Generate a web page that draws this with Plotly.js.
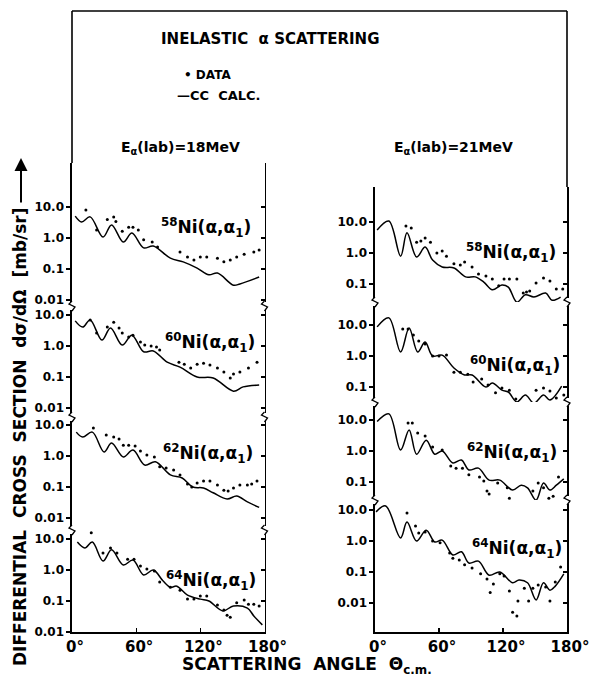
<!DOCTYPE html>
<html>
<head>
<meta charset="utf-8">
<script src="https://cdn.plot.ly/plotly-3.0.1.min.js"></script>
<style>html,body{margin:0;padding:0;background:#fff;}#chart{width:589px;height:679px;}</style>
</head>
<body>
<div id="chart"></div>
<script>
// ---------------- DATA (angle in degrees c.m., cross section in mb/sr) ----------------
// 18 MeV
const calc58_18_theta = [3,9,17,29,37,48,56,67,76,92,104,117,128,136,151,157,175];
const calc58_18_sigma = [5.1,3.3,4.8,1.07,2.63,0.74,1.45,0.48,0.55,0.224,0.17,0.107,0.065,0.074,0.030,0.033,0.055];
const data58_18_theta = [13,23,33,39,41,47,53,57,62,67,75,80,101,108,114,120,126,136,142,148,154,161,170,175];
const data58_18_sigma = [7.94,1.82,3.98,4.79,3.39,1.66,2.24,2.24,1.82,0.87,0.74,0.51,0.355,0.245,0.195,0.245,0.245,0.224,0.17,0.195,0.245,0.30,0.355,0.41];

const calc60_18_theta = [3,10,17,28,36,47,56,67,76,89,101,117,132,151,160,175];
const calc60_18_sigma = [6.46,4.07,6.92,1.55,3.8,1.07,2.24,0.65,0.69,0.30,0.209,0.1,0.093,0.035,0.048,0.055];
const data60_18_theta = [17,23,33,39,44,47,53,57,64,68,74,79,82,100,105,111,117,123,129,136,142,148,151,157,165,173];
const data60_18_sigma = [6.92,2.63,4.07,5.89,3.8,2.63,1.95,2.24,1.35,1.07,1.0,0.93,0.74,0.30,0.26,0.195,0.26,0.28,0.245,0.195,0.145,0.093,0.126,0.145,0.195,0.30];

const calc62_18_theta = [4,10,19,30,37,48,57,68,78,92,103,113,123,132,145,154,164,175];
const calc62_18_sigma = [5.89,4.07,5.89,1.35,2.63,0.93,1.55,0.51,0.65,0.245,0.195,0.1,0.093,0.065,0.041,0.051,0.033,0.022];
const data62_18_theta = [20,32,39,44,48,53,59,64,70,77,82,88,95,101,108,112,117,123,129,136,142,146,151,157,164,168,173];
const data62_18_sigma = [7.94,4.79,4.07,3.55,2.24,2.24,2.09,1.45,1.07,0.93,0.45,0.41,0.355,0.245,0.126,0.1,0.135,0.155,0.155,0.115,0.079,0.074,0.093,0.115,0.115,0.126,0.155];

const calc64_18_theta = [5,12,19,29,37,48,57,67,76,85,92,98,108,120,128,141,151,164,170,178];
const calc64_18_sigma = [7.94,5.13,7.94,1.95,4.47,1.45,2.09,0.69,1.0,0.45,0.28,0.30,0.155,0.115,0.1,0.048,0.069,0.059,0.033,0.017];
const data64_18_theta = [18,29,36,42,52,58,64,70,77,82,92,101,108,114,120,126,136,142,145,148,154,161,165,170,175];
const data64_18_sigma = [15.8,3.55,5.13,3.55,2.24,2.24,1.35,1.07,0.93,0.41,0.28,0.224,0.115,0.115,0.145,0.145,0.074,0.051,0.035,0.030,0.087,0.107,0.079,0.079,0.069];

// 21 MeV
const calc58_21_theta = [2,13,24,30,39,47,54,63,74,85,94,102,110,119,125,133,141,149,160,166,174];
const calc58_21_sigma = [5.5,10.7,0.79,4.47,0.74,1.55,0.59,0.355,0.33,0.17,0.17,0.115,0.065,0.093,0.079,0.026,0.045,0.038,0.051,0.030,0.038];
const data58_21_theta = [29,34,39,43,47,52,58,63,67,74,80,84,91,97,104,110,116,121,126,133,139,142,145,151,158,164,170,176];
const data58_21_sigma = [7.41,6.46,2.24,2.45,3.02,2.24,1.0,1.15,0.79,0.45,0.41,0.51,0.355,0.209,0.182,0.145,0.087,0.145,0.145,0.145,0.051,0.055,0.059,0.107,0.155,0.126,0.069,0.069];

const calc60_21_theta = [2,13,24,32,40,47,54,63,74,84,91,104,110,119,125,133,141,149,158,164,175];
const calc60_21_sigma = [8.71,17,1.35,7.94,1.35,2.82,1.0,1.07,0.41,0.245,0.245,0.1,0.135,0.079,0.069,0.033,0.055,0.030,0.055,0.038,0.107];
const data60_21_theta = [26,31,36,41,47,54,60,67,74,80,87,92,100,106,113,119,126,132,137,140,145,151,158,164,170,177];
const data60_21_sigma = [7.41,7.41,4.79,3.02,2.45,1.0,1.0,1.07,0.30,0.30,0.26,0.145,0.182,0.115,0.065,0.093,0.079,0.041,0.0195,0.0135,0.026,0.079,0.093,0.074,0.044,0.055];

const calc62_21_theta = [2,13,24,32,39,48,56,63,73,81,88,97,107,117,129,137,143,151,158,164,170,177];
const calc62_21_sigma = [8.9,15.8,1.07,4.79,0.79,2.24,0.79,1.0,0.41,0.51,0.245,0.28,0.115,0.115,0.055,0.079,0.065,0.026,0.093,0.055,0.079,0.126];
const data62_21_theta = [31,35,40,47,54,63,71,76,82,88,98,102,105,107,115,124,126,130,134,139,144,148,153,158,163,167,172];
const data62_21_sigma = [7.94,7.94,3.8,3.02,1.35,1.07,0.33,0.28,0.28,0.17,0.145,0.107,0.051,0.041,0.093,0.065,0.030,0.01,0.0079,0.0145,0.026,0.051,0.093,0.065,0.030,0.035,0.145];

const calc64_21_theta = [1,10,24,30,39,48,56,63,73,81,88,97,107,117,129,135,143,151,158,164,169,177];
const calc64_21_sigma = [8.71,13.5,1.26,4.07,1.0,2.24,0.93,1.07,0.355,0.45,0.195,0.224,0.079,0.1,0.045,0.055,0.045,0.0126,0.045,0.026,0.035,0.087];
const data64_21_theta = [30,38,41,47,54,61,70,73,79,84,91,99,105,108,111,117,121,126,129,133,134,140,144,148,153,160,164,169,174];
const data64_21_sigma = [7.94,3.02,1.82,1.95,1.0,0.87,0.41,0.28,0.245,0.17,0.135,0.087,0.059,0.022,0.041,0.087,0.074,0.0245,0.005,0.0038,0.0115,0.030,0.0115,0.030,0.038,0.033,0.0115,0.048,0.145];

// tick labels
const xTickVals = [0,60,120,180];
const xTickText = ['0°','60°','120°','180°'];
const yTickVals4 = [10,1,0.1,0.01];
const yTickText4 = ['10.0','1.0','0.1','0.01'];
const yTickVals3 = [10,1,0.1];
const yTickText3 = ['10.0','1.0','0.1'];

const labels = ['<sup>58</sup>Ni(α,α<sub>1</sub>)','<sup>60</sup>Ni(α,α<sub>1</sub>)','<sup>62</sup>Ni(α,α<sub>1</sub>)','<sup>64</sup>Ni(α,α<sub>1</sub>)'];

// ---------------- LAYOUT HELPERS ----------------
const W = 589, H = 679;
const PX = x => x / W;
const PY = y => 1 - y / H;
const FONT = 'DejaVu Sans';
const PPD = 31; // pixels per decade

const panels = [
  {calcT:calc58_18_theta, calcS:calc58_18_sigma, dataT:data58_18_theta, dataS:data58_18_sigma, xd:[72,264.5], top:163, bot:306, y10:207, tv:yTickVals4, tt:yTickText4, lab:labels[0], lx:206, ly:228, bottom:false},
  {calcT:calc60_18_theta, calcS:calc60_18_sigma, dataT:data60_18_theta, dataS:data60_18_sigma, xd:[72,264.5], top:306, bot:417, y10:315, tv:yTickVals4, tt:yTickText4, lab:labels[1], lx:210, ly:342, bottom:false},
  {calcT:calc62_18_theta, calcS:calc62_18_sigma, dataT:data62_18_theta, dataS:data62_18_sigma, xd:[72,264.5], top:417, bot:530, y10:425, tv:yTickVals4, tt:yTickText4, lab:labels[2], lx:208, ly:453, bottom:false},
  {calcT:calc64_18_theta, calcS:calc64_18_sigma, dataT:data64_18_theta, dataS:data64_18_sigma, xd:[72,264.5], top:530, bot:632, y10:539, tv:yTickVals4, tt:yTickText4, lab:labels[3], lx:211, ly:580, bottom:true},
  {calcT:calc58_21_theta, calcS:calc58_21_sigma, dataT:data58_21_theta, dataS:data58_21_sigma, xd:[375,567], top:187, bot:302, y10:222, tv:yTickVals3, tt:yTickText3, lab:labels[0], lx:511, ly:252, bottom:false},
  {calcT:calc60_21_theta, calcS:calc60_21_sigma, dataT:data60_21_theta, dataS:data60_21_sigma, xd:[375,567], top:302, bot:402, y10:325, tv:yTickVals3, tt:yTickText3, lab:labels[1], lx:515, ly:365, bottom:false},
  {calcT:calc62_21_theta, calcS:calc62_21_sigma, dataT:data62_21_theta, dataS:data62_21_sigma, xd:[375,567], top:402, bot:500, y10:420, tv:yTickVals3, tt:yTickText3, lab:labels[2], lx:512, ly:452, bottom:false},
  {calcT:calc64_21_theta, calcS:calc64_21_sigma, dataT:data64_21_theta, dataS:data64_21_sigma, xd:[375,567], top:500, bot:632, y10:510, tv:yTickVals4, tt:yTickText4, lab:labels[3], lx:517, ly:548, bottom:true}
];

const traces = [];
const layout = {
  width: W, height: H,
  margin: {l:0, r:0, t:0, b:0, pad:0},
  paper_bgcolor: '#fff', plot_bgcolor: 'rgba(0,0,0,0)',
  showlegend: false,
  font: {family: FONT, color: '#000'},
  shapes: [], annotations: []
};

panels.forEach((p, k) => {
  const i = k + 1;
  const xa = 'x' + i, ya = 'y' + i, ya2 = 'y' + (i + 8);
  const hi = 1 + (p.y10 - p.top) / PPD;
  const lo = 1 - (p.bot - p.y10) / PPD;
  traces.push({type:'scatter', mode:'lines', x:p.calcT, y:p.calcS, xaxis:xa, yaxis:ya,
    line:{color:'#000', width:1.5, shape:'spline', smoothing:1}, hoverinfo:'skip'});
  traces.push({type:'scatter', mode:'markers', x:p.dataT, y:p.dataS, xaxis:xa, yaxis:ya, cliponaxis:false,
    marker:{color:'#000', size:3, symbol:'circle'}, hoverinfo:'skip'});
  traces.push({type:'scatter', mode:'markers', x:[], y:[], xaxis:xa, yaxis:ya2, hoverinfo:'skip'});

  layout['xaxis' + i] = p.bottom ? {
    domain:[PX(p.xd[0]), PX(p.xd[1])], anchor:ya, range:[0,180], showgrid:false, zeroline:false,
    showline:true, linecolor:'#000', linewidth:1.6, ticks:'inside', ticklen:4, tickwidth:1.3, tickcolor:'#000',
    tickvals:xTickVals, ticktext:xTickText, ticklabelshift:3, ticklabeloverflow:'allow',
    tickfont:{family:FONT, size:15, weight:'bold', color:'#000'}, automargin:false, fixedrange:true
  } : {
    domain:[PX(p.xd[0]), PX(p.xd[1])], anchor:ya, range:[0,180], visible:false, fixedrange:true
  };
  layout['yaxis' + i] = {
    domain:[PY(p.bot), PY(p.top)], anchor:xa, type:'log', range:[lo, hi], showgrid:false, zeroline:false,
    showline:true, mirror:true, linecolor:'#000', linewidth:1.6,
    ticks:'outside', ticklen:4, tickwidth:1.3, tickcolor:'#000',
    tickvals:p.tv, ticktext:p.tt, tickfont:{family:FONT, size:12, weight:'bold', color:'#000'},
    automargin:false, fixedrange:true
  };
  layout['yaxis' + (i + 8)] = {
    overlaying:ya, side:'right', anchor:xa, type:'log', range:[lo, hi], showgrid:false, zeroline:false,
    showline:false, ticks:'inside', ticklen:4, tickwidth:1.3, tickcolor:'#000',
    tickvals:yTickVals4, showticklabels:false, automargin:false, fixedrange:true
  };
  layout.annotations.push({xref:'paper', yref:'paper', x:PX(p.lx), y:PY(p.ly), text:p.lab, showarrow:false,
    xanchor:'center', yanchor:'middle', font:{family:FONT, size:17, weight:'bold', color:'#000'}});
});

// frame lines
const LW = 1.6;
const line = (x0,y0,x1,y1) => ({type:'line', xref:'paper', yref:'paper', x0:PX(x0), y0:PY(y0), x1:PX(x1), y1:PY(y1), line:{color:'#000', width:LW}});
layout.shapes.push(line(72,11,567,11), line(72,11,72,163), line(567,11,567,187));

// axis break marks
const brk = (x,y) => {
  layout.shapes.push({type:'rect', xref:'paper', yref:'paper', x0:PX(x-2), x1:PX(x+2), y0:PY(y+4), y1:PY(y-4), fillcolor:'#fff', line:{width:0}});
  const pts = [[x,y-5],[x-3,y-2],[x+3,y+1],[x,y+5]];
  layout.shapes.push({type:'path', xref:'paper', yref:'paper',
    path:'M' + pts.map(q => PX(q[0]) + ',' + PY(q[1])).join(' L'), line:{color:'#000', width:1.3}});
};
[306,417,530].forEach(y => { brk(72,y); brk(264.5,y); });
[302,402,500].forEach(y => { brk(375,y); brk(567,y); });

// texts
const ann = (x,y,text,size,opts={}) => layout.annotations.push(Object.assign({xref:'paper', yref:'paper', x:PX(x), y:PY(y), text:text, showarrow:false,
  xanchor:'center', yanchor:'middle', font:{family:FONT, size:size, weight:'bold', color:'#000'}}, opts));
ann(270, 39, 'INELASTIC&nbsp;&nbsp;α SCATTERING', 15);
ann(182, 75, '• DATA', 12, {xanchor:'left'});
ann(175, 96, '—CC&nbsp;&nbsp;CALC.', 13, {xanchor:'left'});
ann(180, 148, 'E<sub>α</sub>(lab)=18MeV', 14);
ann(454, 148, 'E<sub>α</sub>(lab)=21MeV', 14);
ann(307, 665, 'SCATTERING&nbsp;&nbsp;ANGLE&nbsp;&nbsp;Θ<sub>c.m.</sub>', 17);
ann(20, 437, 'DIFFERENTIAL&nbsp;&nbsp;CROSS&nbsp;&nbsp;SECTION&nbsp;&nbsp;dσ/dΩ&nbsp;&nbsp;[mb/sr]', 17, {textangle:-90});
// arrow on y title
layout.annotations.push({xref:'paper', yref:'paper', x:PX(21), y:PY(158), ax:0, ay:46, axref:'pixel', ayref:'pixel',
  text:'', showarrow:true, arrowhead:2, arrowsize:1.3, arrowwidth:2, arrowcolor:'#000', standoff:0});

Plotly.newPlot('chart', traces, layout, {staticPlot:true, displayModeBar:false});
</script>
</body>
</html>
